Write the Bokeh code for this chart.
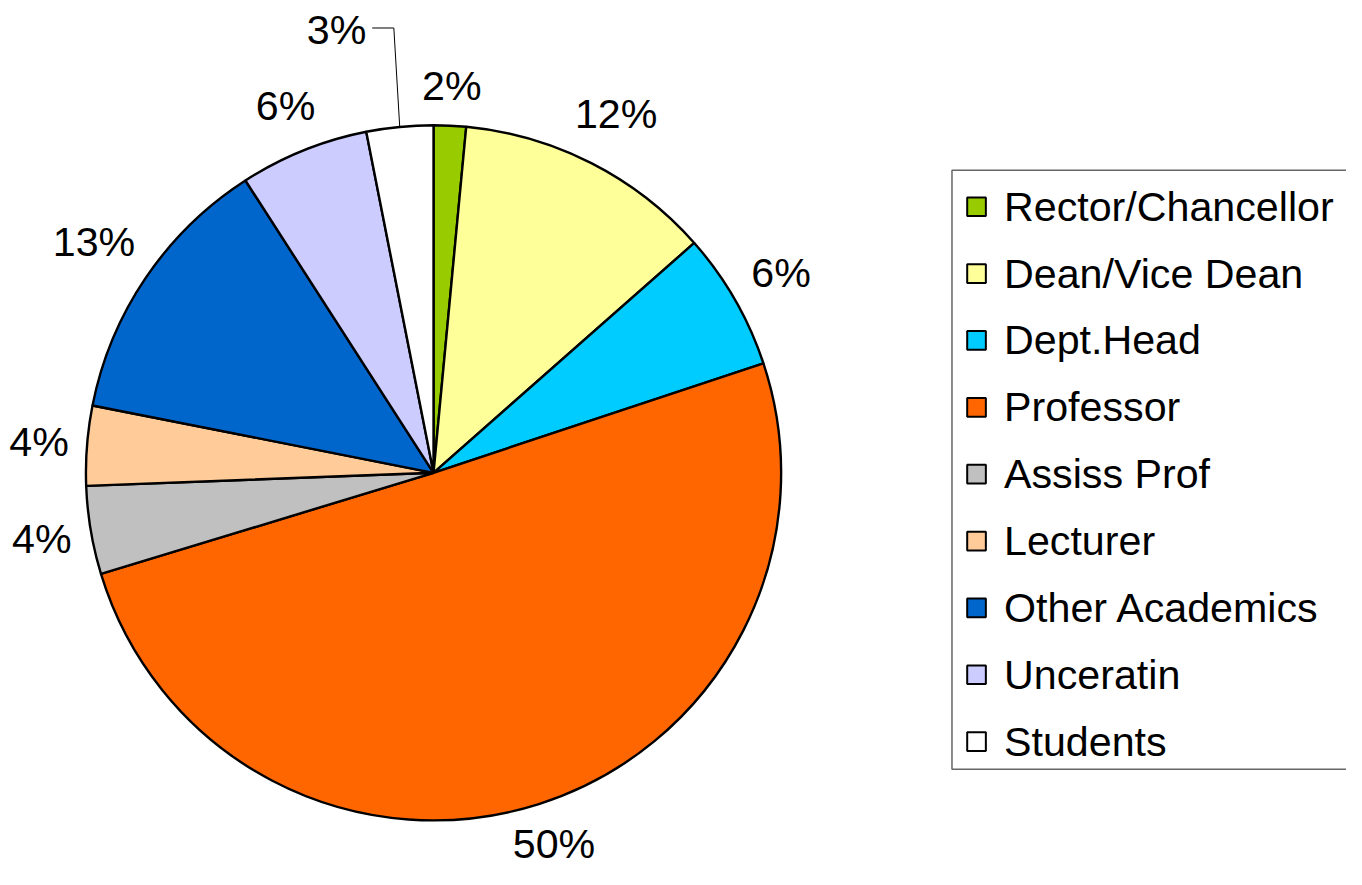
import numpy as np
from bokeh.plotting import figure
from bokeh.models import Range1d, ColumnDataSource
from bokeh.core.properties import value
from bokeh.embed import file_html
from bokeh.resources import INLINE

# ---- data ----
categories = ["Rector/Chancellor", "Dean/Vice Dean", "Dept.Head", "Professor",
              "Assiss Prof", "Lecturer", "Other Academics", "Unceratin", "Students"]
shares = [1.5, 12.0, 6.4, 50.4, 4.1, 3.7, 12.8, 6.0, 3.1]
pct_labels = ["2%", "12%", "6%", "50%", "4%", "4%", "13%", "6%", "3%"]
colors = ["#99CC00", "#FFFF99", "#00CCFF", "#FF6600", "#C0C0C0",
          "#FFCC99", "#0066CC", "#CCCCFF", "#FFFFFF"]

# ---- layout / style (data units = reference pixels) ----
FONT = "Liberation Sans"
W, H = 1346, 869
REF_H = 885
S = H / REF_H                # screen px per reference px
FS_REF = 42
FS = f"{FS_REF * S:.1f}px"
R = 354
CX, CY = 441, 481            # pie centre in reference pixels
Y_MIN = CY - REF_H

p = figure(width=W, height=H,
           x_range=Range1d(-CX, W / S - CX),
           y_range=Range1d(Y_MIN, CY),
           min_border=0, toolbar_location=None, output_backend="svg",
           x_axis_location=None, y_axis_location=None)
p.grid.visible = False
p.outline_line_color = None
p.background_fill_color = "white"
p.border_fill_color = "white"

vals = np.array(shares, dtype=float)
frac = vals / vals.sum()
cum = np.concatenate([[0.0], np.cumsum(frac)])
theta1 = cum[:-1] * 2 * np.pi   # clockwise from top
theta2 = cum[1:] * 2 * np.pi
src = ColumnDataSource(dict(
    start=np.pi / 2 - theta2,
    end=np.pi / 2 - theta1,
    color=colors,
    name=categories,
))
p.wedge(x=0, y=0, radius=R, start_angle="start", end_angle="end",
        direction="anticlock", fill_color="color", line_color="black",
        line_width=2.4, source=src)

# ---- percentage labels ----
mid = (theta1 + theta2) / 2
leader_idx = len(categories) - 1
pad, half_h = 17, 22
lx, ly, lt = [], [], []
for i, t in enumerate(pct_labels):
    a = mid[i]
    s, c = np.sin(a), np.cos(a)
    if i == leader_idx:
        ex, ey = R * s, R * c
        elbow_x, elbow_y = ex - 6, R + 99
        end_x = elbow_x - 22
        p.line([ex, elbow_x, end_x], [ey, elbow_y, elbow_y],
               line_color="black", line_width=1)
        p.text(x=[end_x - 6], y=[elbow_y - 2], text=[t], text_align="right",
               text_baseline="middle", text_font=value(FONT),
               text_font_size=FS, text_color="black")
        continue
    w = (0.556 * (len(t) - 1) + 0.889) * FS_REF
    ext = w / 2 * abs(s) + half_h * abs(c)
    r = R + pad + ext
    lx.append(r * s)
    # keep labels inside the chart area
    ly.append(max(r * c, Y_MIN + 26))
    lt.append(t)
p.text(x=lx, y=ly, text=lt, text_align="center", text_baseline="middle",
       text_font=value(FONT), text_font_size=FS, text_color="black")

# ---- legend ----
leg_left, leg_top, leg_bottom = 969 - CX, CY - 173, CY - 783
p.quad(left=[leg_left], right=[1420 - CX], top=[leg_top], bottom=[leg_bottom],
       fill_color=None, line_color="#666666", line_width=1.5)
row0, step = CY - 210, 68.1
rows_y = [row0 - step * i for i in range(len(categories))]
p.rect(x=[994 - CX] * len(categories), y=rows_y, width=19, height=19,
       fill_color=colors, line_color="black", line_width=2)
p.text(x=[1022 - CX] * len(categories), y=rows_y, text=categories,
       text_align="left", text_baseline="middle", text_font=value(FONT),
       text_font_size=FS, text_color="black")

open("out.html", "w").write(file_html(p, INLINE))
